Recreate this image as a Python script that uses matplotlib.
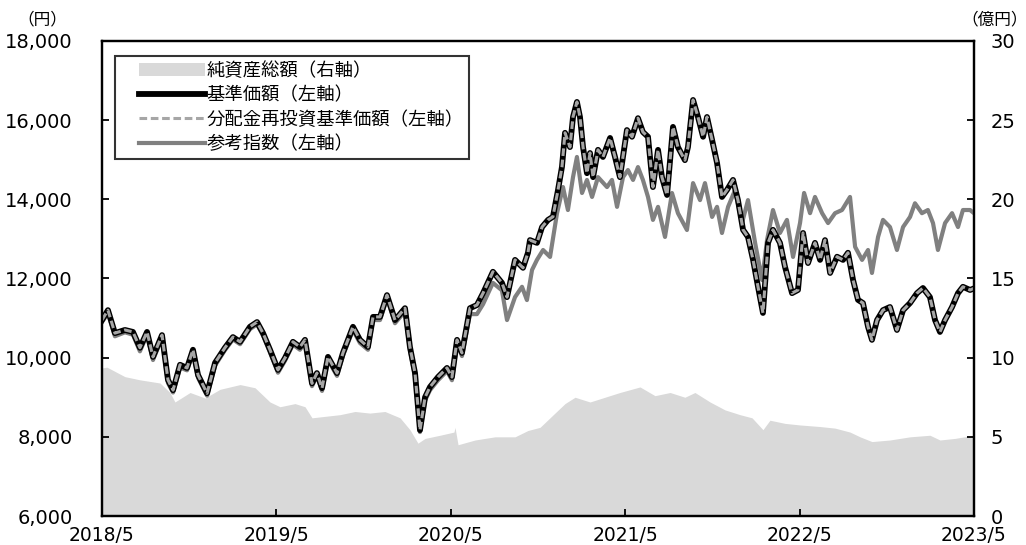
import matplotlib
matplotlib.use("Agg")
import matplotlib.pyplot as plt
from matplotlib.patches import Patch
from matplotlib.lines import Line2D
from matplotlib.legend_handler import HandlerLine2D, HandlerPatch

plt.rcParams['font.family'] = ['Noto Sans CJK JP', 'DejaVu Sans']

# 経過月数（2018/5 起点）
price_months = [
    0.0, 0.41, 0.89, 1.58, 2.13, 2.61, 3.10, 3.51, 4.13, 4.54, 4.89, 5.37, 5.85, 6.26, 6.61,
    7.23, 7.78, 8.46, 9.01, 9.50, 10.18, 10.67, 11.08, 11.56, 12.11, 12.59, 13.14, 13.62, 13.97,
    14.45, 14.79, 15.14, 15.55, 16.17, 16.58, 17.27, 17.75, 18.30, 18.65, 19.13, 19.61, 20.16,
    20.85, 21.19, 21.54, 21.88, 22.23, 22.57, 23.12, 23.74, 24.08, 24.43, 24.77, 25.32, 25.80,
    26.22, 26.90, 27.52, 27.87, 28.42, 28.97, 29.31, 29.45, 29.93, 30.28, 30.69, 31.03, 31.38,
    31.65, 31.86, 32.20, 32.41, 32.68, 32.89, 33.10, 33.37, 33.58, 33.79, 34.13, 34.47, 34.96,
    35.30, 35.64, 36.12, 36.47, 36.88, 37.22, 37.57, 37.91, 38.26, 38.53, 38.88, 39.29, 39.63,
    40.11, 40.32, 40.67, 41.01, 41.36, 41.63, 41.98, 42.32, 42.66, 43.01, 43.42, 43.76, 44.11,
    44.45, 44.80, 45.14, 45.48, 45.83, 46.17, 46.65, 47.00, 47.48, 47.89, 48.24, 48.58, 49.06,
    49.41, 49.75, 50.10, 50.58, 50.99, 51.33, 51.68, 52.02, 52.36, 52.71, 52.98, 53.33, 53.74,
    54.22, 54.70, 55.12, 55.60, 56.08, 56.49, 56.97, 57.32, 57.66, 58.01, 58.49, 58.90, 59.24,
    59.73, 60.0]

# 基準価額（円）
nav = [
    10950, 11200, 10620, 10700, 10650, 10250, 10650, 10020, 10570, 9440, 9180, 9820, 9740, 10200, 9560,
    9100, 9870, 10250, 10520, 10400, 10780, 10900, 10620, 10200, 9690, 9990, 10400, 10270, 10450,
    9350, 9610, 9230, 10020, 9610, 10120, 10780, 10450, 10270, 11030, 11030, 11580, 10950,
    11250, 10270, 9610, 8170, 9000, 9260, 9510, 9740, 9510, 10450, 10120, 11250, 11330,
    11630, 12170, 11890, 11530, 12470, 12270, 12650, 12970, 12900, 13300, 13480, 13560, 14240,
    14820, 15680, 15320, 16080, 16460, 16080, 15320, 14660, 15170, 14560, 15250, 15070, 15550,
    15070, 14560, 15750, 15580, 16050, 15700, 15580, 14310, 15250, 14560, 14110, 15830, 15320,
    14990, 15320, 16510, 16080, 15580, 16080, 15500, 14920, 14060, 14240, 14490, 13980, 13230,
    13050, 12470, 11790, 11130, 12900, 13230, 12900, 12290, 11630, 11710, 13150, 12390, 12900,
    12470, 12970, 12140, 12550, 12470, 12650, 11960, 11460, 11380, 10780, 10450, 10950, 11200,
    11280, 10700, 11200, 11380, 11630, 11760, 11530, 10950, 10650, 10950, 11280, 11630, 11790,
    11710, 11750]

# 分配金再投資基準価額（円）
nav_reinvest = list(nav)

# 参考指数（円換算）
index_months = [
    0.0, 0.41, 0.89, 1.58, 2.13, 2.61, 3.10, 3.51, 4.13, 4.54, 4.89, 5.37, 5.85, 6.26, 6.61,
    7.23, 7.78, 8.46, 9.01, 9.50, 10.18, 10.67, 11.08, 11.56, 12.11, 12.59, 13.14, 13.62, 13.97,
    14.45, 14.79, 15.14, 15.55, 16.17, 16.58, 17.27, 17.75, 18.30, 18.65, 19.13, 19.61, 20.16,
    20.85, 21.19, 21.54, 21.88, 22.23, 22.57, 23.12, 23.74, 24.08, 24.43, 24.77, 25.32, 25.80,
    26.22, 26.90, 27.52, 27.87, 28.42, 28.90, 29.24, 29.59, 29.93, 30.35, 30.83, 31.31, 31.72,
    32.06, 32.41, 32.68, 33.03, 33.37, 33.72, 34.13, 34.75, 35.09, 35.44, 35.85, 36.19, 36.54,
    36.88, 37.22, 37.57, 37.91, 38.26, 38.74, 39.22, 39.63, 40.25, 40.67, 41.15, 41.49, 41.98,
    42.32, 42.66, 43.08, 43.56, 44.04, 44.45, 44.94, 45.42, 45.76, 46.17, 46.65, 47.13, 47.55,
    48.03, 48.31, 48.72, 49.06, 49.55, 49.96, 50.44, 50.92, 51.47, 51.82, 52.30, 52.71, 52.98,
    53.40, 53.74, 54.22, 54.70, 55.12, 55.60, 55.94, 56.42, 56.83, 57.18, 57.52, 58.01, 58.49,
    58.90, 59.24, 59.73, 60.0]
ref_index = [
    10900, 11120, 10540, 10640, 10580, 10160, 10580, 9940, 10500, 9360, 9120, 9750, 9680, 10130, 9490,
    9040, 9800, 10190, 10460, 10340, 10720, 10840, 10560, 10130, 9620, 9920, 10330, 10200, 10380,
    9280, 9540, 9160, 9950, 9540, 10050, 10700, 10370, 10200, 10950, 10950, 11500, 10870,
    11170, 10190, 9540, 8120, 8920, 9180, 9430, 9660, 9430, 10370, 10040, 11100, 11100,
    11350, 11890, 11700, 10950, 11530, 11790, 11455, 12215, 12470, 12720, 12545, 13650, 14310,
    13730, 14560, 15070, 14160, 14490, 14060, 14560, 14310, 14490, 13810, 14560, 14740, 14490,
    14815, 14490, 14060, 13480, 13810, 13050, 14160, 13650, 13225, 14410, 13980, 14410, 13555,
    13810, 13150, 13810, 14235, 13400, 13980, 12900, 11960, 12970, 13730, 13150, 13480, 12545,
    13400, 14160, 13650, 14060, 13650, 13400, 13650, 13730, 14060, 12800, 12470, 12720, 12140,
    13050, 13480, 13300, 12720, 13300, 13555, 13900, 13650, 13730, 13400, 12720, 13400, 13650,
    13300, 13730, 13730, 13650]

# 純資産総額（億円）
assets_months = [
    0.0, 0.34, 1.58, 2.61, 3.99, 4.68, 5.02, 6.06, 7.09, 8.12, 9.50, 10.53, 11.56, 12.25, 13.28,
    13.97, 14.45, 16.38, 17.41, 18.44, 19.47, 20.51, 21.19, 21.74, 22.23, 23.26, 24.22, 24.29,
    24.50, 25.67, 27.04, 28.42, 29.31, 30.14, 31.17, 31.86, 32.55, 33.58, 34.61, 35.64, 37.02,
    38.05, 39.09, 40.11, 40.80, 41.84, 42.87, 43.90, 44.73, 45.48, 45.96, 46.99, 48.03, 49.41,
    50.44, 51.47, 52.16, 52.98, 54.22, 55.60, 56.97, 57.66, 58.69, 60.0]
net_assets = [
    9.35, 9.4, 8.8, 8.6, 8.4, 7.8, 7.2, 7.8, 7.45, 8.0, 8.3, 8.1, 7.2, 6.9, 7.1,
    6.9, 6.2, 6.4, 6.6, 6.5, 6.6, 6.2, 5.45, 4.6, 4.9, 5.1, 5.3, 5.6,
    4.5, 4.8, 5.0, 5.0, 5.4, 5.6, 6.5, 7.1, 7.5, 7.2, 7.5, 7.8, 8.15,
    7.6, 7.8, 7.5, 7.8, 7.2, 6.7, 6.4, 6.2, 5.45, 6.05, 5.85, 5.75, 5.65,
    5.55, 5.3, 5.0, 4.7, 4.8, 5.0, 5.1, 4.8, 4.9, 5.1]

x_ticks = [0, 12, 24, 36, 48, 60]
x_labels = ['2018/5', '2019/5', '2020/5', '2021/5', '2022/5', '2023/5']
left_ticks = [6000, 8000, 10000, 12000, 14000, 16000, 18000]
right_ticks = [0, 5, 10, 15, 20, 25, 30]

fig = plt.figure(figsize=(10.26, 5.45), dpi=100)
ax = fig.add_axes([0.0994, 0.0532, 0.8499, 0.8716])
ax2 = ax.twinx()

# 面グラフは右軸、背面に
ax2.fill_between(assets_months, net_assets, 0, color='#d9d9d9', lw=0)
ax2.set_ylim(0, 30)
ax2.set_yticks(right_ticks)
ax.set_zorder(ax2.get_zorder() + 1)
ax.patch.set_visible(False)

ax.plot(index_months, ref_index, color='#808080', lw=3.0, solid_joinstyle='round')
ax.plot(price_months, nav, color='black', lw=4.2, solid_joinstyle='round')
ax.plot(price_months, nav_reinvest, color='#a6a6a6', lw=2.2, ls=(0, (2.5, 1.2)))

ax.set_xlim(0, 60)
ax.set_ylim(6000, 18000)
ax.set_yticks(left_ticks)
ax.set_yticklabels([f'{v:,}' for v in left_ticks])
ax.set_xticks(x_ticks)
ax.set_xticklabels(x_labels)

for a in (ax, ax2):
    for s in a.spines.values():
        s.set_linewidth(1.6)
ax.tick_params(axis='y', direction='in', length=5, width=1.3, pad=21, labelsize=14)
ax.tick_params(axis='x', direction='in', length=5, width=1.3, pad=7, labelsize=13.5)
ax2.tick_params(axis='y', direction='in', length=5, width=1.3, pad=12, labelsize=14)
for lab in ax.get_xticklabels() + ax.get_yticklabels() + ax2.get_yticklabels():
    lab.set_family('DejaVu Sans')

fig.text(0.041, 0.963, '（円）', fontsize=12, ha='center', va='center')
fig.text(0.969, 0.963, '（億円）', fontsize=12, ha='center', va='center')

handles = [
    Patch(facecolor='#d9d9d9', edgecolor='none'),
    Line2D([], [], color='black', lw=4.2),
    Line2D([], [], color='#a6a6a6', lw=2.2, ls=(0, (2.5, 1.2))),
    Line2D([], [], color='#808080', lw=3.0),
]
labels = ['純資産総額（右軸）', '基準価額（左軸）', '分配金再投資基準価額（左軸）', '参考指数（左軸）']
hmap = {Line2D: HandlerLine2D(xpad=1.0), Patch: HandlerPatch(xpad=1.0)}
leg = ax.legend(handles, labels, loc='upper left', bbox_to_anchor=(0.015, 0.968),
                fontsize=13.2, frameon=True, fancybox=False, handlelength=4.6,
                handletextpad=0.1, labelspacing=0.36, borderpad=0.3, borderaxespad=0,
                handler_map=hmap)
leg.get_frame().set_edgecolor('black')
leg.get_frame().set_linewidth(1.5)

fig.savefig('out.png', dpi=100)
